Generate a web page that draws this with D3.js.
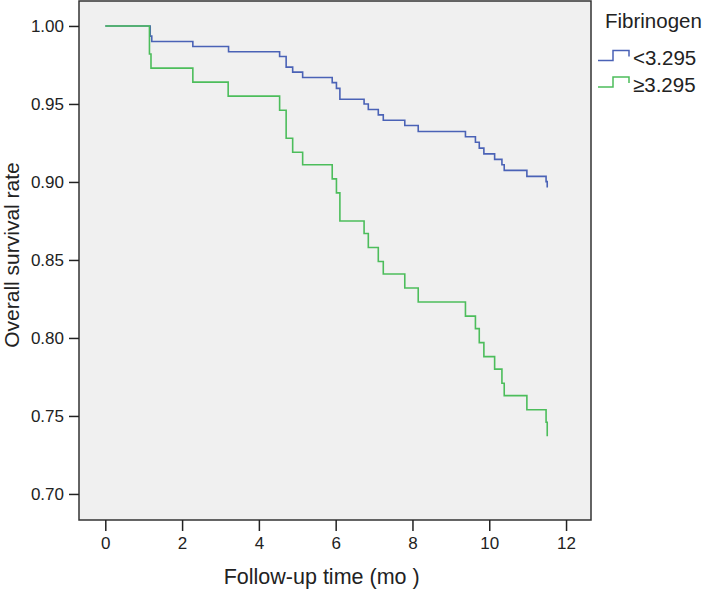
<!DOCTYPE html>
<html>
<head>
<meta charset="utf-8">
<script src="https://cdn.jsdelivr.net/npm/d3@7"></script>
<style>
  html, body { margin: 0; padding: 0; background: #ffffff; }
  svg { display: block; font-family: "Liberation Sans", Arial, sans-serif; }
</style>
</head>
<body>
<svg id="chart" width="709" height="589"></svg>
<script>
// ---- data ----
const groupNames = ["<3.295", "\u22653.295"];
const legendTitle = "Fibrinogen";

const lowTimes = [0, 1.17, 1.21, 2.28, 3.21, 4.54, 4.71, 4.88, 5.14, 5.91, 6.02, 6.11, 6.74, 6.85, 7.11, 7.24, 7.80, 8.15, 9.38, 9.64, 9.74, 9.86, 10.14, 10.33, 10.39, 10.98, 11.48, 11.51];
const lowSurv  = [1.000, 0.9935, 0.990, 0.9868, 0.9835, 0.9804, 0.9736, 0.9704, 0.967, 0.9637, 0.960, 0.953, 0.950, 0.9464, 0.943, 0.9396, 0.9362, 0.9323, 0.929, 0.9255, 0.9217, 0.918, 0.9145, 0.911, 0.9074, 0.9036, 0.9002, 0.8965];

const highTimes = [0, 1.15, 1.19, 2.28, 3.20, 4.54, 4.71, 4.88, 5.14, 5.91, 6.02, 6.11, 6.74, 6.85, 7.11, 7.24, 7.80, 8.15, 9.38, 9.64, 9.74, 9.86, 10.14, 10.33, 10.39, 10.98, 11.48, 11.51];
const highSurv  = [1.000, 0.982, 0.973, 0.964, 0.955, 0.946, 0.928, 0.919, 0.911, 0.902, 0.893, 0.875, 0.867, 0.858, 0.849, 0.841, 0.832, 0.823, 0.814, 0.806, 0.797, 0.788, 0.780, 0.771, 0.763, 0.754, 0.746, 0.737];

const xTicks = [0, 2, 4, 6, 8, 10, 12];
const yTicks = [0.70, 0.75, 0.80, 0.85, 0.90, 0.95, 1.00];
const xTitle = "Follow-up time (mo )";
const yTitle = "Overall survival rate";
const colors = ["#4a62b6", "#4cbd5b"];

// ---- layout ----
const svg = d3.select("#chart");
const plot = { left: 79, top: 1, right: 591, bottom: 520 };

const x = d3.scaleLinear().domain([-0.685, 12.65]).range([plot.left, plot.right]);
const y = d3.scaleLinear().domain([0.6833, 1.016]).range([plot.bottom, plot.top]);

// background
svg.append("rect")
  .attr("x", plot.left).attr("y", plot.top)
  .attr("width", plot.right - plot.left).attr("height", plot.bottom - plot.top)
  .attr("fill", "#f0f0f0");

// curves
const series = [
  { times: lowTimes, surv: lowSurv, color: colors[0] },
  { times: highTimes, surv: highSurv, color: colors[1] }
];
const line = d3.line()
  .x(d => x(d[0]))
  .y(d => y(d[1]))
  .curve(d3.curveStepAfter);

series.forEach(s => {
  const pts = s.times.map((t, i) => [t, s.surv[i]]);
  svg.append("path")
    .attr("d", line(pts))
    .attr("fill", "none")
    .attr("stroke", s.color)
    .attr("stroke-width", 1.6);
});

// frame
svg.append("rect")
  .attr("x", plot.left).attr("y", plot.top)
  .attr("width", plot.right - plot.left).attr("height", plot.bottom - plot.top)
  .attr("fill", "none")
  .attr("stroke", "#333333")
  .attr("stroke-width", 1.5);

// axes
const yAxis = d3.axisLeft(y).tickValues(yTicks).tickFormat(d3.format(".2f")).tickSize(10).tickPadding(5);
const gy = svg.append("g").attr("transform", `translate(${plot.left},0)`).call(yAxis);
gy.select(".domain").remove();
gy.selectAll(".tick line").attr("stroke", "#222").attr("stroke-width", 1.5);
gy.selectAll(".tick text").attr("font-size", 17).attr("fill", "#222")
  .attr("font-family", "'Liberation Sans', Arial, sans-serif");

const xAxis = d3.axisBottom(x).tickValues(xTicks).tickFormat(d3.format("d")).tickSize(11).tickPadding(6);
const gx = svg.append("g").attr("transform", `translate(0,${plot.bottom})`).call(xAxis);
gx.select(".domain").remove();
gx.selectAll(".tick line").attr("stroke", "#222").attr("stroke-width", 1.5);
gx.selectAll(".tick text").attr("font-size", 17).attr("fill", "#222")
  .attr("font-family", "'Liberation Sans', Arial, sans-serif");

// axis titles
svg.append("text")
  .attr("x", x(6) - 14).attr("y", 584)
  .attr("text-anchor", "middle")
  .attr("font-size", 21.5)
  .attr("fill", "#222")
  .text(xTitle);

svg.append("text")
  .attr("transform", `translate(18.5,255) rotate(-90)`)
  .attr("text-anchor", "middle")
  .attr("font-size", 21)
  .attr("fill", "#222")
  .text(yTitle);

// legend
svg.append("text")
  .attr("x", 605).attr("y", 28)
  .attr("font-size", 20.5)
  .attr("fill", "#222")
  .text(legendTitle);

groupNames.forEach((name, i) => {
  const by = 60.5 + i * 26.5;
  const g = svg.append("g");
  g.append("path")
    .attr("d", `M598,${by} H613 V${by - 10} H629 V${by - 4}`)
    .attr("fill", "none")
    .attr("stroke", colors[i])
    .attr("stroke-width", 1.5);
  g.append("text")
    .attr("x", 633).attr("y", by + 4.5)
    .attr("font-size", 20.5)
    .attr("fill", "#222")
    .text(name);
});
</script>
</body>
</html>
